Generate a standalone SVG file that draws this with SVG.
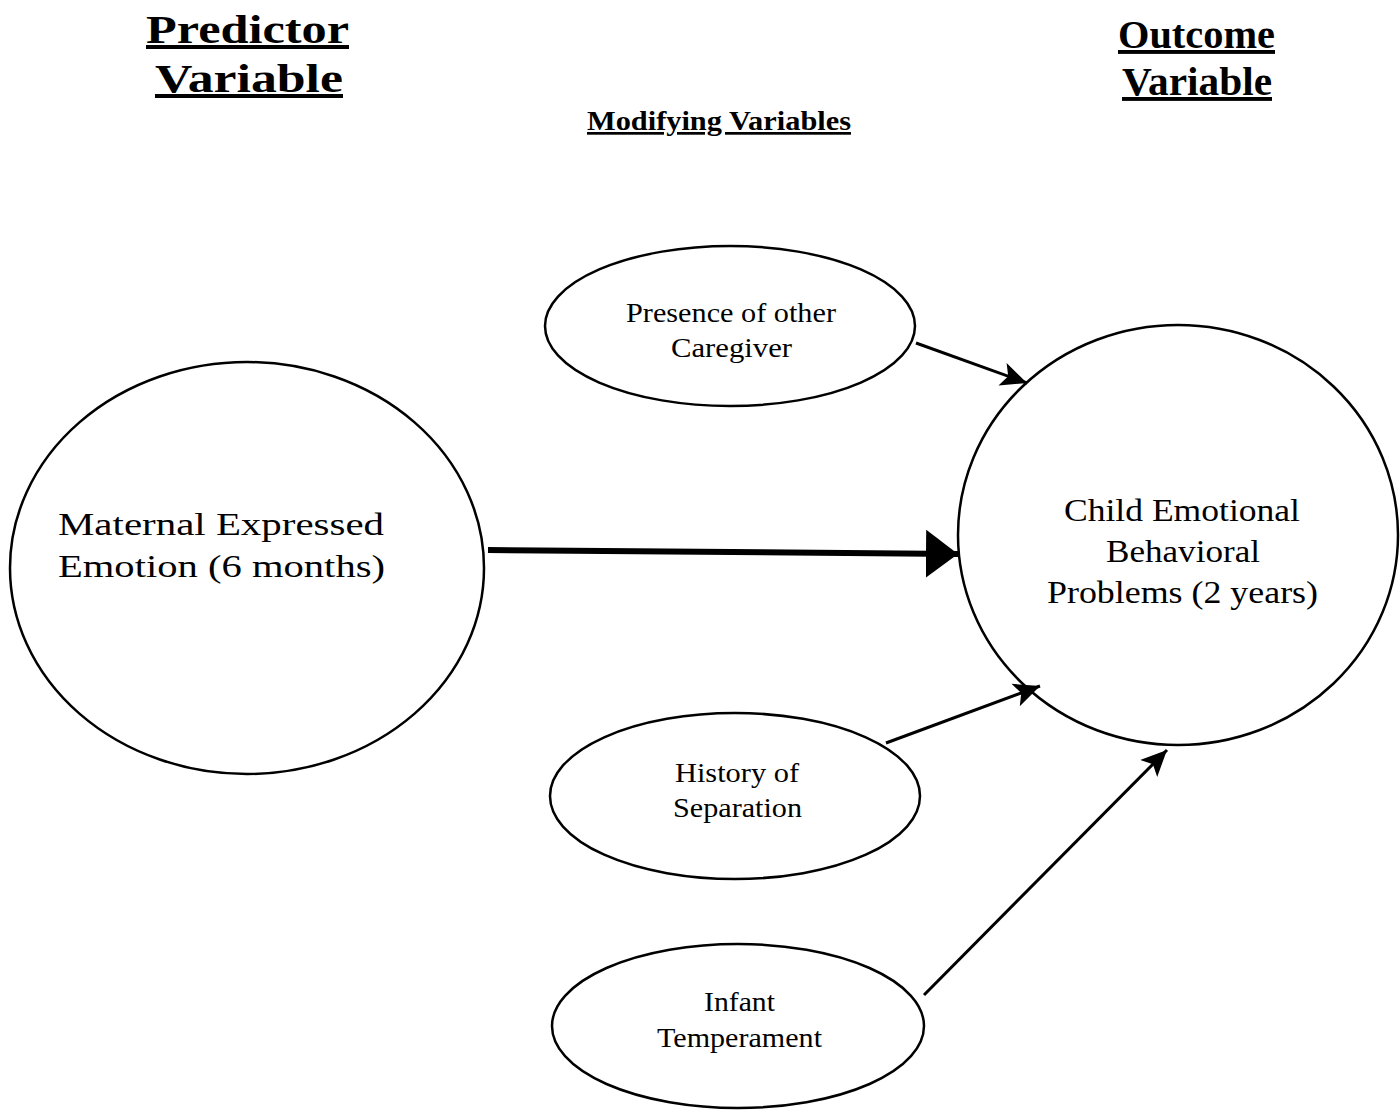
<svg xmlns="http://www.w3.org/2000/svg" width="1400" height="1114" viewBox="0 0 1400 1114">
<style>
.node{fill:none;stroke:#000;stroke-width:2.5}
.t{font-family:"Liberation Serif","Times New Roman",serif;fill:#000}
.h{font-weight:bold;text-decoration:underline}
.c{stroke:#000;fill:none}
</style>
<defs>
<marker id="ah" markerUnits="userSpaceOnUse" markerWidth="30" markerHeight="30" refX="26" refY="12" orient="auto" viewBox="0 0 30 24">
<path d="M0,0 L26,12 L0,24 L6,12 Z" fill="#000"/>
</marker>
<marker id="ahBig" markerUnits="userSpaceOnUse" markerWidth="34" markerHeight="48" refX="32" refY="24" orient="auto" viewBox="0 0 34 48">
<path d="M0,0 L32,24 L0,48 Z" fill="#000"/>
</marker>
</defs>
<rect width="1400" height="1114" fill="#fff"/>
<g id="headings">
<text class="t h" x="146" y="43" font-size="40" textLength="203" lengthAdjust="spacingAndGlyphs">Predictor</text>
<text class="t h" x="155" y="92" font-size="40" textLength="188" lengthAdjust="spacingAndGlyphs">Variable</text>
<text class="t h" x="1118" y="48" font-size="39" textLength="157" lengthAdjust="spacingAndGlyphs">Outcome</text>
<text class="t h" x="1122" y="95" font-size="39" textLength="150" lengthAdjust="spacingAndGlyphs">Variable</text>
<text class="t h" x="587" y="130" font-size="27" textLength="264" lengthAdjust="spacingAndGlyphs">Modifying Variables</text>
</g>
<g id="connectors">
<line class="c" x1="488" y1="550" x2="958" y2="554" stroke-width="6" marker-end="url(#ahBig)"/>
<line class="c" x1="916" y1="343" x2="1027" y2="383" stroke-width="3" marker-end="url(#ah)"/>
<line class="c" x1="886" y1="743" x2="1040" y2="686" stroke-width="3" marker-end="url(#ah)"/>
<line class="c" x1="924" y1="995" x2="1167" y2="750" stroke-width="3" marker-end="url(#ah)"/>
</g>
<g id="maternal">
<ellipse class="node" cx="247" cy="568" rx="237" ry="206"/>
<text class="t" x="58" y="535" font-size="32" textLength="326" lengthAdjust="spacingAndGlyphs">Maternal Expressed</text>
<text class="t" x="58" y="577" font-size="32" textLength="327" lengthAdjust="spacingAndGlyphs">Emotion (6 months)</text>
</g>
<g id="child">
<ellipse class="node" cx="1178" cy="535" rx="220" ry="210"/>
<text class="t" x="1064" y="521" font-size="32" textLength="236" lengthAdjust="spacingAndGlyphs">Child Emotional</text>
<text class="t" x="1106" y="562" font-size="32" textLength="154" lengthAdjust="spacingAndGlyphs">Behavioral</text>
<text class="t" x="1047" y="603" font-size="32" textLength="271" lengthAdjust="spacingAndGlyphs">Problems (2 years)</text>
</g>
<g id="presence">
<ellipse class="node" cx="730" cy="326" rx="185" ry="80"/>
<text class="t" x="626" y="322" font-size="28" textLength="210" lengthAdjust="spacingAndGlyphs">Presence of other</text>
<text class="t" x="671" y="357" font-size="28" textLength="121" lengthAdjust="spacingAndGlyphs">Caregiver</text>
</g>
<g id="history">
<ellipse class="node" cx="735" cy="796" rx="185" ry="83"/>
<text class="t" x="675" y="782" font-size="28" textLength="124" lengthAdjust="spacingAndGlyphs">History of</text>
<text class="t" x="673" y="817" font-size="28" textLength="129" lengthAdjust="spacingAndGlyphs">Separation</text>
</g>
<g id="infant">
<ellipse class="node" cx="738" cy="1026" rx="186" ry="82"/>
<text class="t" x="704" y="1011" font-size="28" textLength="71" lengthAdjust="spacingAndGlyphs">Infant</text>
<text class="t" x="657" y="1047" font-size="28" textLength="165" lengthAdjust="spacingAndGlyphs">Temperament</text>
</g>
</svg>
